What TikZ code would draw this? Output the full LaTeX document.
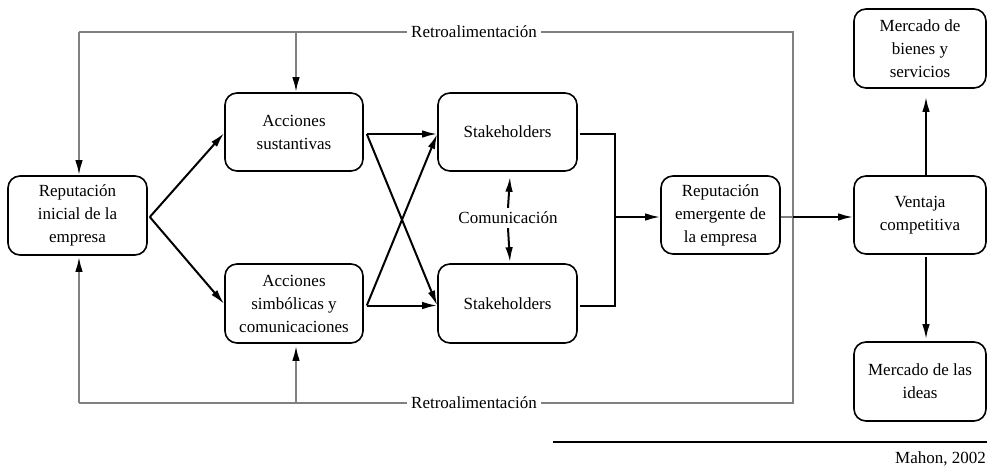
\documentclass[tikz,border=0pt]{standalone}
\usepackage{fontspec}
\setmainfont{Liberation Serif}
\usetikzlibrary{arrows.meta,calc}
\begin{document}
\begin{tikzpicture}[x=1pt,y=-1pt,
  box/.style={draw,line width=1.6pt,rounded corners=12pt,align=center,inner sep=0pt,
    font=\fontsize{17}{23}\selectfont},
  flow/.style={line width=2pt,-{Latex[length=15pt,width=7.5pt]}},
  plain/.style={line width=2pt},
  fb/.style={line width=2pt,draw={rgb,255:red,128;green,128;blue,128}},
  fbarrow/.style={fb,-{Latex[length=15pt,width=7.5pt,fill=black,color=black]}},
  lbl/.style={font=\fontsize{17}{23}\selectfont,inner sep=4pt}]
\useasboundingbox (0,0) rectangle (987,471);

% boxes
\node[box,minimum width=139pt,minimum height=79pt] (rin) at (77.5,215.5) {Reputación\\inicial de la\\empresa};
\node[box,minimum width=138pt,minimum height=78pt] (sus) at (294,132) {Acciones\\sustantivas};
\node[box,minimum width=138pt,minimum height=79pt] (sim) at (294,303.5) {Acciones\\simbólicas y\\comunicaciones};
\node[box,minimum width=139pt,minimum height=78pt] (st1) at (507.5,132) {Stakeholders};
\node[box,minimum width=139pt,minimum height=79pt] (st2) at (507.5,303.5) {Stakeholders};
\node[box,minimum width=119pt,minimum height=78pt] (rem) at (720.5,215) {Reputación\\emergente de\\la empresa};
\node[box,minimum width=132pt,minimum height=78pt] (ven) at (920,215) {Ventaja\\competitiva};
\node[box,minimum width=132pt,minimum height=79pt] (mbs) at (920,48.5) {Mercado de\\bienes y\\servicios};
\node[box,minimum width=132pt,minimum height=79pt] (mid) at (920,381.5) {Mercado de las\\ideas};
\node[lbl] (com) at (508,218) {Comunicación};

% feedback loops
\node[lbl] (fbt) at (474,32) {Retroalimentación};
\node[lbl] (fbb) at (474,403) {Retroalimentación};
\coordinate (tl) at (79,32);
\coordinate (tr) at (793,32);
\coordinate (bl) at (79,403);
\coordinate (br) at (793,403);
\coordinate (tm) at (296,32);
\coordinate (bm) at (296,403);
\coordinate (fx) at (793,217);
\draw[fb] (fbt.west) -- (tl);
\draw[fb] (fbt.east) -- (tr) -- (br) -- (fbb.east);
\draw[fb] (fbb.west) -- (bl);
\draw[fbarrow] (tl) -- (rin.north -| tl);
\draw[fbarrow] (bl) -- ($(rin.south -| bl)+(0,1)$);
\draw[fbarrow] (tm) -- (sus.north -| tm);
\draw[fbarrow] (bm) -- ($(sim.south -| bm)+(0,2)$);
\draw[fb] (rem.east |- fx) -- (fx);

% main flow
\coordinate (rs) at ($(rin.east)+(2,1.5)$);
\draw[flow] (rs) -- ($(sus.west)+(0,1)$);
\draw[flow] (rs) -- ($(sim.west)+(0,0.5)$);

\coordinate (s1) at ($(sus.east)+(3,2)$);
\coordinate (s2) at ($(sim.east)+(3,2)$);
\coordinate (t1) at ($(st1.west)+(0,2)$);
\coordinate (t2) at ($(st2.west)+(0,2)$);
\draw[flow] (s1) -- (t1);
\draw[flow] (s1) -- (t2);
\draw[flow] (s2) -- (t2);
\draw[flow] (s2) -- (t1);

\coordinate (j) at (615,217);
\draw[plain] ($(st1.east)+(2,2)$) -| (j);
\draw[plain] ($(st2.east)+(2,2)$) -| (j);
\draw[flow] (j) -- (rem.west |- j);

\draw[flow] (com.north) -- ($(st1.south)+(2.5,5)$);
\draw[flow] (com.south) -- ($(st2.north)+(2.5,-1)$);

\draw[flow] (fx) -- (ven.west |- fx);
\draw[flow] ($(ven.north)+(6,2)$) -- ($(mbs.south)+(6,8)$);
\draw[flow] ($(ven.south)+(6,2)$) -- ($(mid.north)+(6,-2)$);

% source
\coordinate (sl) at (553,442);
\coordinate (sr) at (987,442);
\draw[line width=2pt] (sl) -- (sr);
\node[lbl,anchor=east,inner sep=0pt] (src) at (986,459) {Mahon, 2002};
\end{tikzpicture}
\end{document}
